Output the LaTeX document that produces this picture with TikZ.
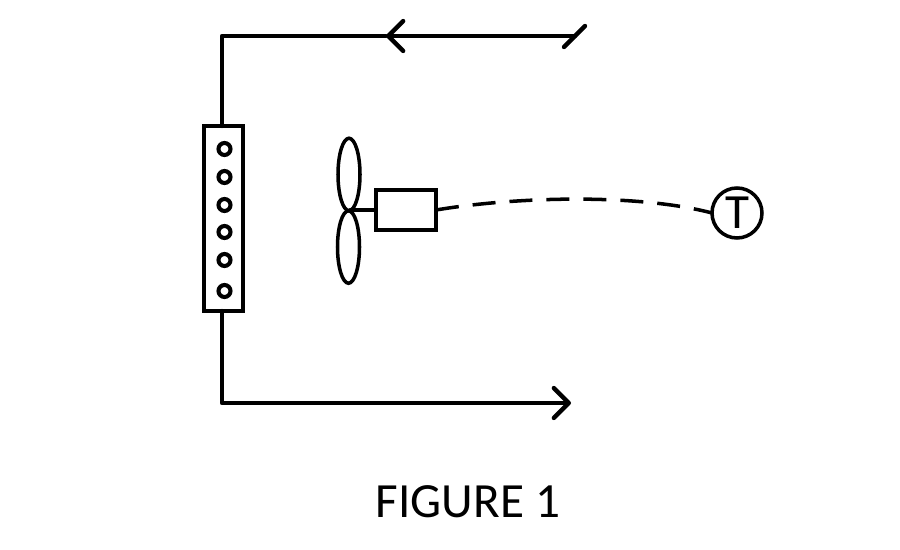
\documentclass[tikz,border=0pt]{standalone}
\usepackage{fontspec}
\setmainfont{Carlito}
\usetikzlibrary{arrows.meta,shapes.geometric}
\tikzset{
  wire/.style={line width=2.5pt},
  barb/.style={-{Straight Barb[length=8.5pt,width=17pt,line width=2.5pt,round]}},
  outline/.style={draw, line width=2pt, inner sep=0pt, outer sep=0pt},
  hole/.style={outline, circle, line width=2.3pt, minimum size=0.24cm},
  blade/.style={outline, ellipse, minimum width=0.44cm, minimum height=1.45cm},
}
\begin{document}
\begin{tikzpicture}[x=0.02cm, y=-0.02cm, line cap=round]
\useasboundingbox (0,0) rectangle (900,550);
% Coil
\node[outline, rectangle, minimum width=0.77cm, minimum height=3.7cm] (coil) at (223.5,218.5) {};
\node[hole] (h1) at (224.5,149) {};
\node[hole] (h2) at (224.5,177) {};
\node[hole] (h3) at (224.5,205) {};
\node[hole] (h4) at (224.5,232) {};
\node[hole] (h5) at (224.5,260) {};
\node[hole] (h6) at (224.5,291) {};

% Duct
\coordinate (topend) at (575,36);
\coordinate (topmid) at (386,36);
\coordinate (topleft) at (222,36);
\coordinate (botleft) at (222,403);
\coordinate (botend) at (571,403);
\coordinate (tick1) at (564,47);
\coordinate (tick2) at (585,26);
\draw[wire, barb] (topend) -- (topmid);
\draw[wire, line join=round] (topmid) -- (topleft) -- (coil.north -| topleft);
\draw[wire] (tick1) -- (tick2);
\draw[wire, barb, line join=round] (coil.south -| botleft) -- (botleft) -- (botend);

% Fan
\node[blade] (b1) at (349,174.5) {};
\node[blade] (b2) at (348.5,247) {};
\node[outline, rectangle, minimum width=1.2cm, minimum height=0.8cm] (motor) at (406,210) {};
\coordinate (hub) at (350,210);
\draw[line width=2pt] (hub) -- (hub -| motor.west);

% Sensor
\node[outline, circle, minimum size=1cm, font=\fontsize{28}{28}\selectfont] (sensor) at (737,213) {T};
\draw[wire, line width=2pt, dash pattern=on 0.46cm off 0.28cm, line cap=butt] (motor.east |- 0,210)
  .. controls (520,196) and (640,194) .. (sensor.west);

% Title
\node[font=\fontsize{28}{28}\selectfont] (title) at (468,502) {FIGURE 1};
\end{tikzpicture}
\end{document}
